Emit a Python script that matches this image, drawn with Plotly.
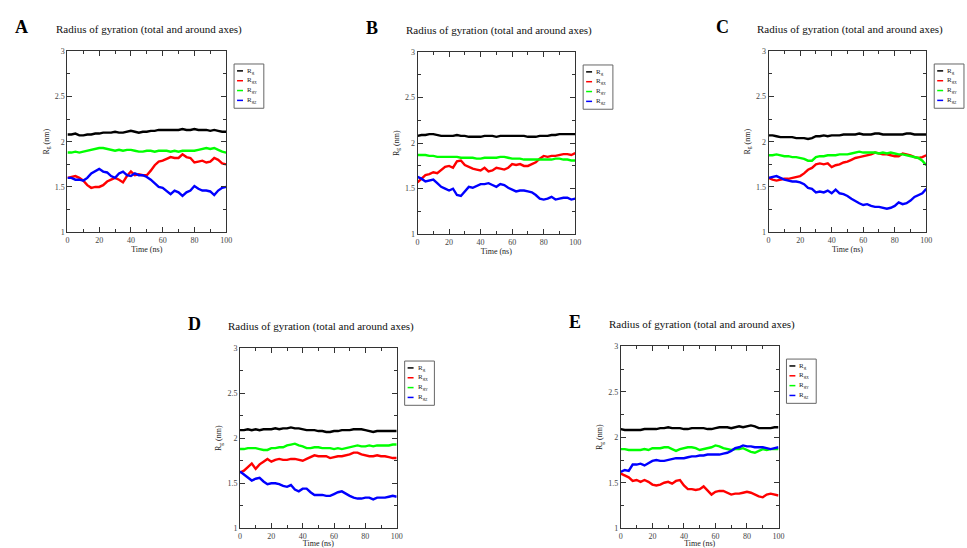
import plotly.graph_objects as go

# ---------------- data ----------------
T = [0, 2.5, 5, 7.5, 10, 12.5, 15, 17.5, 20, 22.5, 25, 27.5, 30, 32.5, 35, 37.5, 40,
     42.5, 45, 47.5, 50, 52.5, 55, 57.5, 60, 62.5, 65, 67.5, 70, 72.5, 75, 77.5, 80,
     82.5, 85, 87.5, 90, 92.5, 95, 97.5, 100]

series_names = ["R<sub>g</sub>", "R<sub>g<sub>X</sub></sub>", "R<sub>g<sub>Y</sub></sub>", "R<sub>g<sub>Z</sub></sub>"]
panel_letters = ["A", "B", "C", "D", "E"]
panel_titles = ["Radius of gyration (total and around axes)"] * 5
x_ticks = [0, 20, 40, 60, 80, 100]
y_ticks = [1, 1.5, 2, 2.5, 3]

A_rg = [2.08, 2.08, 2.09, 2.07, 2.07, 2.08, 2.08, 2.09, 2.09, 2.10, 2.10, 2.10, 2.11, 2.10, 2.10, 2.11, 2.12,
        2.11, 2.10, 2.11, 2.11, 2.12, 2.12, 2.13, 2.13, 2.13, 2.13, 2.13, 2.13, 2.14, 2.13, 2.13, 2.14,
        2.13, 2.13, 2.13, 2.12, 2.13, 2.12, 2.11, 2.11]
A_rgx = [1.60, 1.61, 1.62, 1.60, 1.57, 1.52, 1.49, 1.50, 1.50, 1.52, 1.56, 1.58, 1.60, 1.58, 1.55, 1.62, 1.67,
         1.63, 1.64, 1.63, 1.63, 1.68, 1.74, 1.78, 1.79, 1.81, 1.83, 1.82, 1.82, 1.86, 1.83, 1.82, 1.77,
         1.78, 1.79, 1.77, 1.78, 1.82, 1.80, 1.76, 1.75]
A_rgy = [1.88, 1.88, 1.89, 1.88, 1.89, 1.90, 1.91, 1.92, 1.93, 1.93, 1.92, 1.91, 1.90, 1.91, 1.90, 1.91, 1.91,
         1.90, 1.89, 1.89, 1.90, 1.90, 1.89, 1.90, 1.90, 1.90, 1.89, 1.90, 1.89, 1.90, 1.90, 1.90, 1.90,
         1.91, 1.92, 1.93, 1.92, 1.93, 1.91, 1.89, 1.88]
A_rgz = [1.60, 1.60, 1.58, 1.58, 1.57, 1.60, 1.65, 1.68, 1.70, 1.67, 1.66, 1.62, 1.60, 1.65, 1.67, 1.63, 1.62,
         1.65, 1.63, 1.63, 1.61, 1.58, 1.54, 1.50, 1.49, 1.45, 1.42, 1.46, 1.44, 1.40, 1.44, 1.46, 1.51,
         1.48, 1.46, 1.46, 1.45, 1.41, 1.46, 1.49, 1.50]

B_rg = [2.08, 2.09, 2.09, 2.10, 2.10, 2.09, 2.08, 2.08, 2.08, 2.08, 2.09, 2.08, 2.08, 2.07, 2.07, 2.07, 2.07,
        2.08, 2.08, 2.08, 2.07, 2.08, 2.08, 2.08, 2.08, 2.08, 2.08, 2.08, 2.07, 2.07, 2.07, 2.08, 2.08,
        2.08, 2.09, 2.09, 2.10, 2.10, 2.10, 2.10, 2.10]
B_rgx = [1.57, 1.61, 1.65, 1.66, 1.68, 1.67, 1.71, 1.74, 1.75, 1.73, 1.80, 1.81, 1.76, 1.74, 1.72, 1.71, 1.70,
         1.73, 1.69, 1.70, 1.73, 1.72, 1.71, 1.73, 1.77, 1.76, 1.77, 1.75, 1.75, 1.77, 1.79, 1.83, 1.86,
         1.85, 1.86, 1.86, 1.87, 1.88, 1.88, 1.87, 1.89]
B_rgy = [1.87, 1.87, 1.87, 1.86, 1.86, 1.85, 1.85, 1.85, 1.85, 1.85, 1.85, 1.84, 1.84, 1.84, 1.84, 1.83, 1.83,
         1.84, 1.84, 1.84, 1.84, 1.85, 1.85, 1.84, 1.83, 1.83, 1.83, 1.82, 1.82, 1.82, 1.82, 1.82, 1.82,
         1.82, 1.82, 1.83, 1.83, 1.82, 1.82, 1.81, 1.81]
B_rgz = [1.63, 1.61, 1.58, 1.59, 1.60, 1.56, 1.52, 1.50, 1.48, 1.50, 1.43, 1.42, 1.47, 1.52, 1.51, 1.53, 1.55,
         1.55, 1.56, 1.54, 1.52, 1.55, 1.54, 1.51, 1.49, 1.47, 1.48, 1.48, 1.47, 1.46, 1.43, 1.39, 1.38,
         1.39, 1.41, 1.38, 1.39, 1.40, 1.40, 1.38, 1.39]

C_rg = [2.07, 2.07, 2.06, 2.05, 2.05, 2.05, 2.05, 2.04, 2.04, 2.04, 2.03, 2.04, 2.06, 2.06, 2.07, 2.06, 2.07,
        2.07, 2.07, 2.08, 2.08, 2.08, 2.08, 2.09, 2.08, 2.08, 2.08, 2.09, 2.09, 2.08, 2.08, 2.08, 2.08,
        2.08, 2.08, 2.09, 2.09, 2.08, 2.08, 2.08, 2.08]
C_rgx = [1.60, 1.58, 1.57, 1.58, 1.59, 1.59, 1.60, 1.61, 1.62, 1.65, 1.69, 1.71, 1.75, 1.76, 1.75, 1.76, 1.72,
         1.74, 1.75, 1.77, 1.78, 1.80, 1.82, 1.83, 1.84, 1.85, 1.86, 1.88, 1.87, 1.86, 1.86, 1.85, 1.84,
         1.84, 1.87, 1.86, 1.85, 1.83, 1.82, 1.83, 1.85]
C_rgy = [1.85, 1.85, 1.86, 1.85, 1.84, 1.84, 1.83, 1.83, 1.82, 1.81, 1.79, 1.79, 1.83, 1.84, 1.84, 1.85, 1.85,
         1.85, 1.86, 1.86, 1.86, 1.87, 1.88, 1.89, 1.88, 1.88, 1.88, 1.88, 1.87, 1.88, 1.87, 1.88, 1.87,
         1.86, 1.86, 1.85, 1.84, 1.83, 1.82, 1.79, 1.74]
C_rgz = [1.60, 1.61, 1.62, 1.60, 1.58, 1.57, 1.56, 1.56, 1.55, 1.53, 1.49, 1.48, 1.44, 1.45, 1.44, 1.46, 1.43,
         1.47, 1.43, 1.42, 1.40, 1.37, 1.34, 1.32, 1.30, 1.31, 1.29, 1.28, 1.28, 1.27, 1.26, 1.27, 1.29,
         1.33, 1.31, 1.32, 1.35, 1.39, 1.41, 1.43, 1.48]

D_rg = [2.09, 2.09, 2.10, 2.09, 2.10, 2.09, 2.10, 2.10, 2.10, 2.11, 2.10, 2.11, 2.11, 2.12, 2.11, 2.11, 2.10,
        2.09, 2.09, 2.09, 2.08, 2.08, 2.07, 2.07, 2.08, 2.08, 2.09, 2.09, 2.09, 2.10, 2.10, 2.10, 2.09,
        2.08, 2.07, 2.08, 2.08, 2.08, 2.08, 2.08, 2.08]
D_rgx = [1.62, 1.64, 1.68, 1.72, 1.66, 1.71, 1.74, 1.77, 1.74, 1.76, 1.77, 1.76, 1.76, 1.77, 1.77, 1.76, 1.75,
         1.77, 1.79, 1.81, 1.80, 1.80, 1.80, 1.78, 1.79, 1.80, 1.80, 1.81, 1.82, 1.84, 1.84, 1.82, 1.81,
         1.80, 1.80, 1.81, 1.80, 1.80, 1.79, 1.78, 1.78]
D_rgy = [1.88, 1.88, 1.89, 1.89, 1.89, 1.88, 1.87, 1.87, 1.89, 1.89, 1.90, 1.90, 1.92, 1.93, 1.94, 1.92, 1.91,
         1.89, 1.89, 1.90, 1.90, 1.89, 1.89, 1.89, 1.88, 1.89, 1.88, 1.89, 1.90, 1.91, 1.92, 1.91, 1.91,
         1.92, 1.91, 1.92, 1.92, 1.92, 1.92, 1.93, 1.93]
D_rgz = [1.63, 1.60, 1.56, 1.53, 1.55, 1.56, 1.52, 1.49, 1.50, 1.50, 1.49, 1.47, 1.46, 1.48, 1.43, 1.41, 1.44,
         1.44, 1.40, 1.37, 1.37, 1.37, 1.36, 1.36, 1.38, 1.40, 1.41, 1.38, 1.36, 1.34, 1.33, 1.33, 1.34,
         1.34, 1.32, 1.34, 1.34, 1.34, 1.35, 1.36, 1.35]

E_rg = [2.09, 2.08, 2.08, 2.08, 2.08, 2.08, 2.09, 2.09, 2.09, 2.09, 2.10, 2.10, 2.11, 2.10, 2.10, 2.10, 2.09,
        2.09, 2.10, 2.10, 2.10, 2.10, 2.09, 2.09, 2.10, 2.11, 2.11, 2.11, 2.10, 2.11, 2.12, 2.11, 2.12,
        2.13, 2.12, 2.10, 2.10, 2.10, 2.10, 2.11, 2.11]
E_rgx = [1.60, 1.58, 1.56, 1.52, 1.53, 1.51, 1.53, 1.51, 1.48, 1.47, 1.48, 1.50, 1.51, 1.49, 1.52, 1.53, 1.47,
         1.43, 1.43, 1.42, 1.43, 1.46, 1.41, 1.37, 1.40, 1.41, 1.41, 1.39, 1.37, 1.38, 1.38, 1.39, 1.40,
         1.39, 1.37, 1.35, 1.34, 1.37, 1.38, 1.37, 1.36]
E_rgy = [1.87, 1.87, 1.86, 1.86, 1.86, 1.86, 1.87, 1.86, 1.88, 1.88, 1.88, 1.89, 1.89, 1.87, 1.85, 1.87, 1.88,
         1.89, 1.89, 1.88, 1.86, 1.87, 1.88, 1.89, 1.91, 1.90, 1.88, 1.87, 1.86, 1.87, 1.87, 1.88, 1.86,
         1.84, 1.83, 1.85, 1.87, 1.86, 1.87, 1.87, 1.87]
E_rgz = [1.62, 1.64, 1.63, 1.70, 1.70, 1.71, 1.69, 1.72, 1.74, 1.75, 1.74, 1.74, 1.75, 1.76, 1.77, 1.77, 1.77,
         1.78, 1.79, 1.79, 1.80, 1.80, 1.81, 1.81, 1.81, 1.81, 1.82, 1.83, 1.85, 1.88, 1.89, 1.91, 1.90,
         1.90, 1.89, 1.89, 1.89, 1.88, 1.87, 1.88, 1.89]

panel_data = [
    [A_rg, A_rgx, A_rgy, A_rgz],
    [B_rg, B_rgx, B_rgy, B_rgz],
    [C_rg, C_rgx, C_rgy, C_rgz],
    [D_rg, D_rgx, D_rgy, D_rgz],
    [E_rg, E_rgx, E_rgy, E_rgz],
]

# ---------------- layout / style ----------------
W, H = 967, 548
colors = ["#000000", "#ff0000", "#00ff00", "#0000ff"]
# plot-area pixel boxes (left, top, right, bottom)
boxes = [(66, 48, 226, 232), (419, 49, 578, 234), (773, 48, 932, 232),
         (240, 350, 398, 533), (624, 348, 783, 533)]
SERIF = "Liberation Serif, Times New Roman, serif"


def X(px):
    return px / W


def Y(py):
    return 1 - py / H


fig = go.Figure()
annotations = []
shapes = []

for i, (box, series) in enumerate(zip(boxes, panel_data)):
    l, t, r, b = box
    n = "" if i == 0 else str(i + 1)
    for name, vals, col in zip(series_names, series, colors):
        fig.add_trace(go.Scatter(x=T, y=vals, mode="lines", name=name,
                                 line=dict(color=col, width=2.4),
                                 xaxis="x" + n, yaxis="y" + n, showlegend=False))
    axis_common = dict(showline=True, linecolor="#333", linewidth=1, mirror="allticks",
                       ticks="inside", ticklen=5, tickcolor="#333", tickwidth=1,
                       showgrid=False, zeroline=False,
                       tickfont=dict(family=SERIF, size=8, color="#444"))
    fig.update_layout(**{
        "xaxis" + n: dict(domain=[X(l), X(r)], range=[0, 100], anchor="y" + n,
                          tickvals=x_ticks,
                          minor=dict(ticks="inside", ticklen=3, dtick=10, tickcolor="#333"),
                          title=dict(text="Time (ns)", standoff=1,
                                     font=dict(family=SERIF, size=8, color="#222")),
                          **axis_common),
        "yaxis" + n: dict(domain=[Y(b), Y(t)], range=[1, 3], anchor="x" + n,
                          tickvals=y_ticks,
                          minor=dict(ticks="inside", ticklen=3, dtick=0.25, tickcolor="#333"),
                          title=dict(text="R<sub>g</sub> (nm)", standoff=4,
                                     font=dict(family=SERIF, size=8, color="#222")),
                          **axis_common),
    })
    # panel letter and title
    annotations.append(dict(x=X(l - 46), y=Y(t - 25), xref="paper", yref="paper",
                            text="<b>" + panel_letters[i] + "</b>", showarrow=False,
                            xanchor="center", yanchor="middle",
                            font=dict(family=SERIF, size=18, color="#000")))
    annotations.append(dict(x=X(l - 14), y=Y(t - 22), xref="paper", yref="paper",
                            text=panel_titles[i], showarrow=False,
                            xanchor="left", yanchor="middle",
                            font=dict(family=SERIF, size=11, color="#111")))
    # xmgrace-style legend box
    lx0, ly0 = r + 8, t + 13
    lx1, ly1 = lx0 + 30, ly0 + 45
    shapes.append(dict(type="rect", xref="paper", yref="paper",
                       x0=X(lx0), x1=X(lx1), y0=Y(ly1), y1=Y(ly0),
                       line=dict(color="#666", width=1), fillcolor="white"))
    for k, (name, col) in enumerate(zip(series_names, colors)):
        yy = ly0 + 7 + k * 10
        shapes.append(dict(type="line", xref="paper", yref="paper",
                           x0=X(lx0 + 3), x1=X(lx0 + 9), y0=Y(yy), y1=Y(yy),
                           line=dict(color=col, width=1.5)))
        annotations.append(dict(x=X(lx0 + 11), y=Y(yy), xref="paper", yref="paper",
                                text=name, showarrow=False, xanchor="left", yanchor="middle",
                                font=dict(family=SERIF, size=7, color="#222")))

fig.update_layout(width=W, height=H, margin=dict(l=0, r=0, t=0, b=0),
                  paper_bgcolor="white", plot_bgcolor="white",
                  annotations=annotations, shapes=shapes, showlegend=False)
fig.write_html("out.html")
